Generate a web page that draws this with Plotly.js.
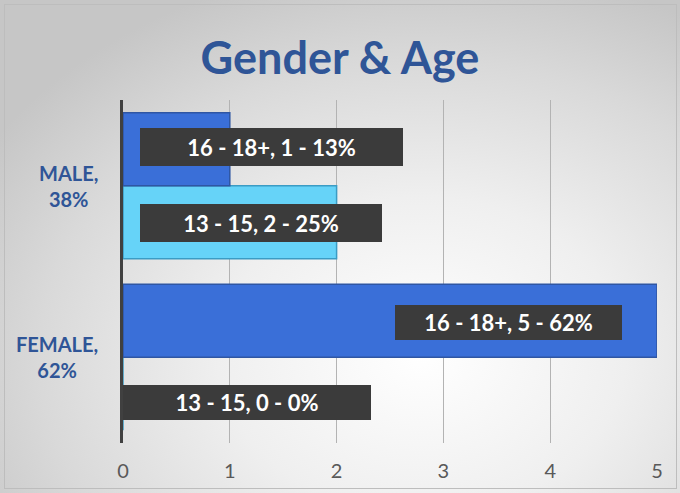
<!DOCTYPE html>
<html>
<head>
<meta charset="utf-8">
<script src="https://cdn.plot.ly/plotly-3.0.1.min.js"></script>
<style>
  html, body { margin: 0; padding: 0; }
  #wrap { position: relative; width: 680px; height: 493px;
    background: radial-gradient(ellipse 75% 80% at 62% 72%, #ffffff 0%, #efefef 40%, #d9d9d9 75%, #c6c6c6 100%); }
  #chart { position: absolute; left: 0; top: 0; width: 680px; height: 493px; }
  #frame { position: absolute; left: 4px; top: 4px; width: 671px; height: 483px;
    border: 1px solid #bdbdbd; pointer-events: none; }
</style>
</head>
<body>
<div id="wrap">
  <div id="chart"></div>
  <div id="frame"></div>
</div>
<script>
// ---- data ----
const genders = ["FEMALE", "MALE"];
const genderPct = ["62%", "38%"];
const ageGroups = ["13 - 15", "16 - 18+"];
const values13to15 = [0, 2];
const values16to18 = [5, 1];
const pct13to15 = ["0%", "25%"];
const pct16to18 = ["62%", "13%"];
const xTicks = [0, 1, 2, 3, 4, 5];

// ---- style / placement ----
const blue = "#3a6fd8", blueLine = "#2f56a3";
const cyan = "#66d3f8", cyanLine = "#3b9cc4";
const titleBlue = "#2f5597";
const bargap = 0.15;
const barW = (1 - bargap) / 2;
// label placement: left edge (axis units), box width/height (px), y shift (px)
const labelPlace = {
  "13 - 15":  [{left: 0.0,  w: 248, h: 35, ys: -8.5}, {left: 0.16, w: 242, h: 38, ys: -1}],
  "16 - 18+": [{left: 2.55, w: 227, h: 35, ys: -1.5}, {left: 0.16, w: 263, h: 38, ys: 2.5}]
};

const categories = genders.map((g, i) => g + ", " + genderPct[i]);

const traces = [
  {type: "bar", orientation: "h", name: ageGroups[0], y: categories, x: values13to15,
   marker: {color: cyan, line: {color: cyanLine, width: 1.5}}, hoverinfo: "x+y"},
  {type: "bar", orientation: "h", name: ageGroups[1], y: categories, x: values16to18,
   marker: {color: blue, line: {color: blueLine, width: 1.5}}, hoverinfo: "x+y"}
];

const annotations = [];
const series = [
  {name: ageGroups[0], vals: values13to15, pcts: pct13to15, off: -barW / 2},
  {name: ageGroups[1], vals: values16to18, pcts: pct16to18, off: barW / 2}
];
series.forEach(s => {
  s.vals.forEach((v, i) => {
    const p = labelPlace[s.name][i];
    annotations.push({
      xref: "x", yref: "y", x: p.left, y: i + s.off, xanchor: "left", yanchor: "middle",
      yshift: p.ys, width: p.w, height: p.h, align: "center", valign: "middle",
      text: "<b>" + s.name + ", " + v + " - " + s.pcts[i] + "</b>",
      showarrow: false, bgcolor: "#3b3b3b", borderpad: 0, borderwidth: 0,
      font: {family: "Lato, 'Open Sans', sans-serif", size: 22, color: "#ffffff"}
    });
  });
});
genders.forEach((g, i) => {
  annotations.push({
    xref: "paper", yref: "y", x: 0, xshift: -23, y: i, xanchor: "right", yanchor: "middle",
    align: "center", showarrow: false,
    text: "<b>" + g + ",<br>" + genderPct[i] + "</b>",
    font: {family: "Lato, 'Open Sans', sans-serif", size: 20, color: titleBlue}
  });
});

const layout = {
  width: 680, height: 493,
  margin: {l: 123, r: 23, t: 100, b: 50, pad: 0},
  paper_bgcolor: "rgba(0,0,0,0)", plot_bgcolor: "rgba(0,0,0,0)",
  title: {text: "<b>Gender &amp; Age</b>", x: 0.5, xref: "container", xanchor: "center",
          y: 0.882, yref: "container", yanchor: "middle",
          font: {family: "Lato, 'Open Sans', sans-serif", size: 45, color: titleBlue}},
  showlegend: false,
  barmode: "group", bargap: bargap, bargroupgap: 0,
  xaxis: {range: [0, 5], tickvals: xTicks, ticktext: xTicks.map(String),
          showgrid: true, gridcolor: "#b3b3b3", gridwidth: 1.3, zeroline: false,
          showline: false, ticks: "", ticklen: 0, ticklabelstandoff: 14,
          tickfont: {family: "Lato, 'Open Sans', sans-serif", size: 20, color: "#595959"},
          fixedrange: true},
  yaxis: {type: "category", categoryorder: "array", categoryarray: categories,
          range: [-0.5, 1.5], showticklabels: false, showgrid: false, zeroline: false,
          showline: true, linecolor: "#404040", linewidth: 3, ticks: "", fixedrange: true},
  annotations: annotations
};

Plotly.newPlot("chart", traces, layout, {displayModeBar: false, staticPlot: true});
</script>
</body>
</html>
